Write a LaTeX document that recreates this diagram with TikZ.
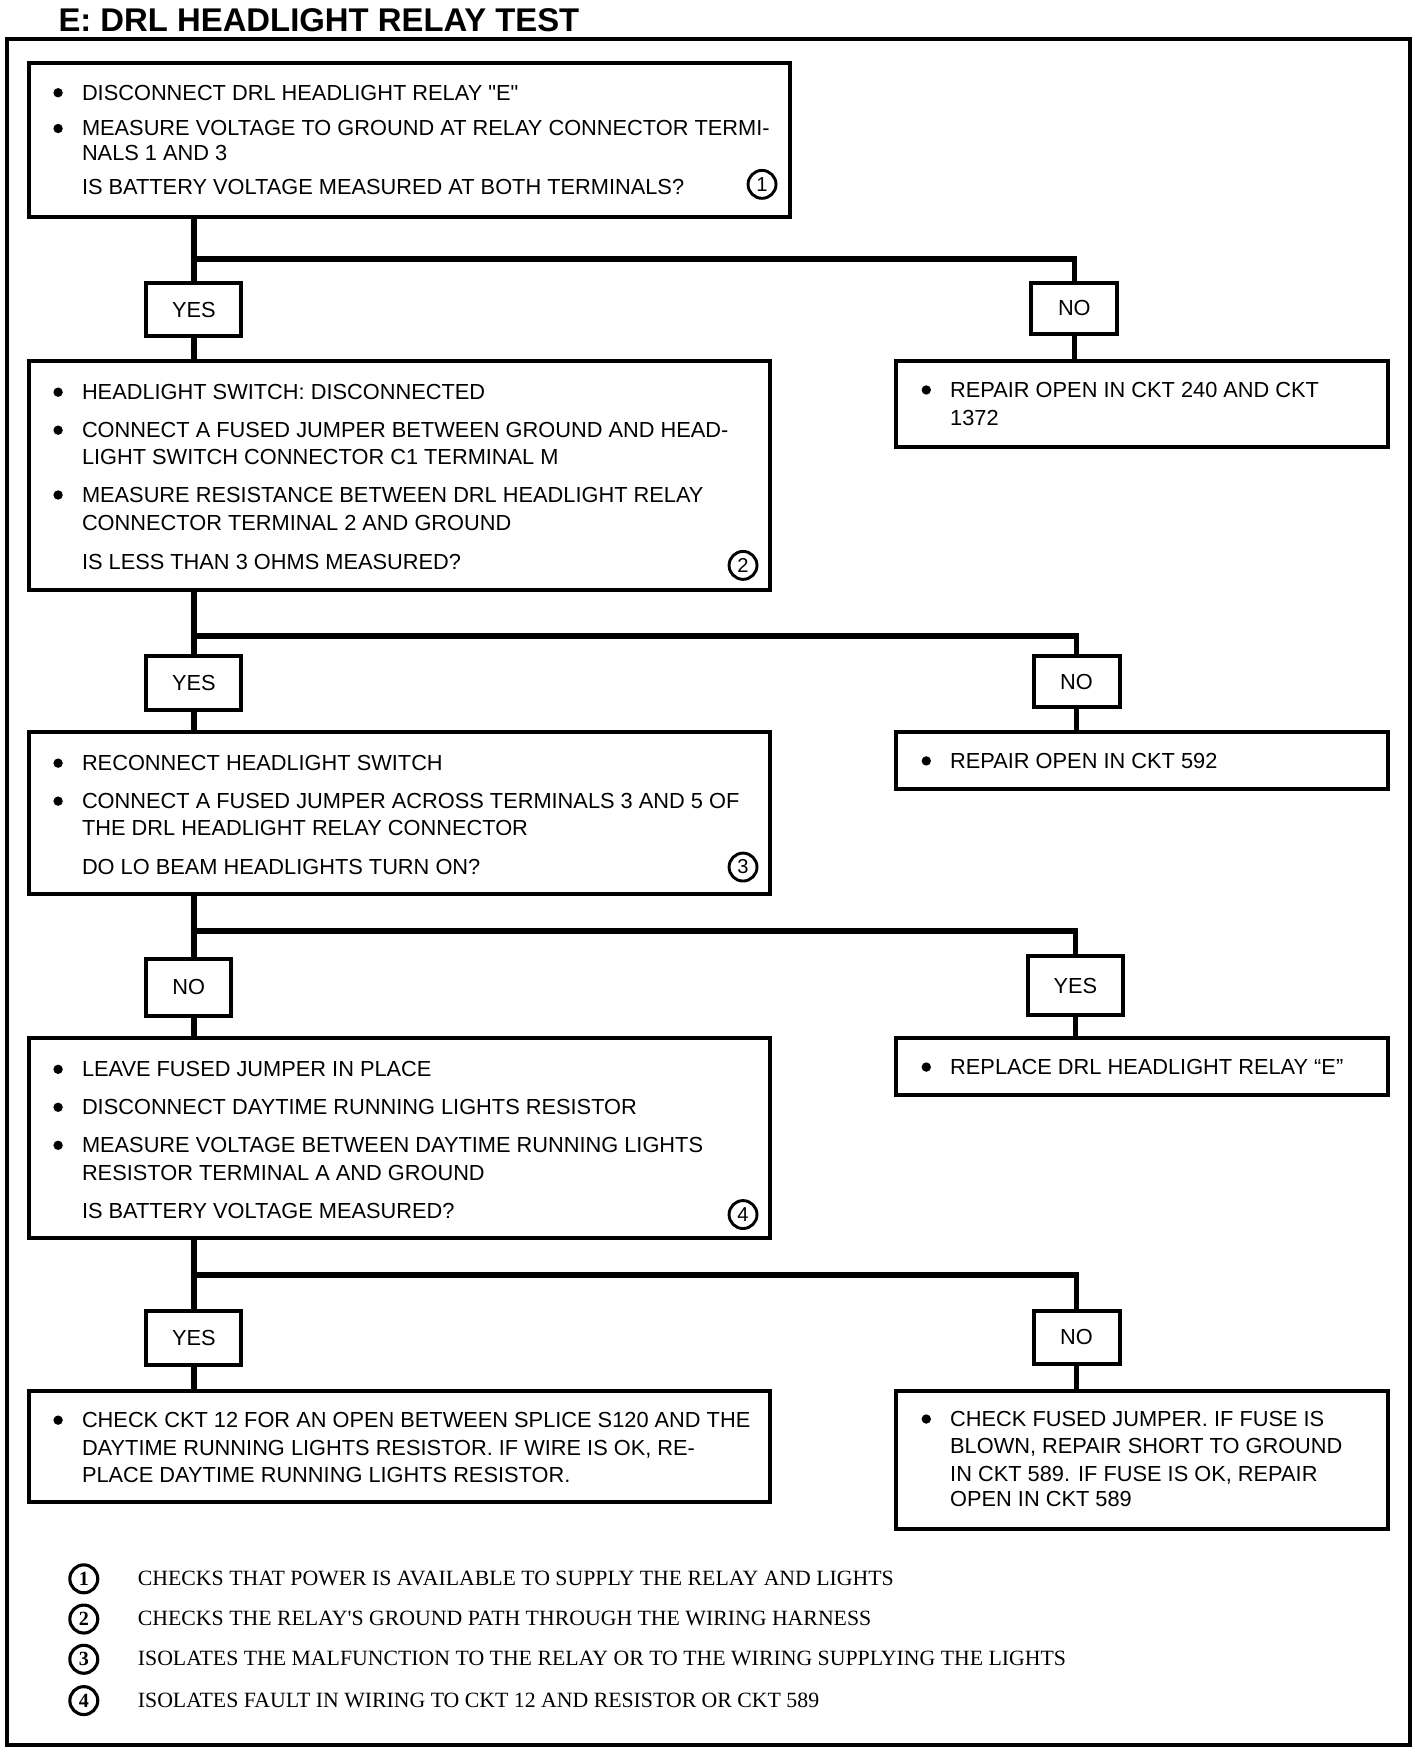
\documentclass[tikz,border=0pt]{standalone}
\usepackage{fontspec}
\setmainfont{Liberation Sans}
\newfontfamily\serifleg{Liberation Serif}
\usetikzlibrary{fit}
\tikzset{
  box/.style={draw, line width=1.8pt, inner sep=0pt, rectangle},
  yn/.style={draw, line width=1.8pt, inner sep=0pt, rectangle, font=\fontsize{9.75}{10}\selectfont},
  conn/.style={line width=2.5pt, line join=miter},
  txt/.style={anchor=base west, inner sep=0pt, font=\fontsize{9.75}{10}\selectfont},
  num/.style={circle, draw, line width=1.3pt, minimum size=12.5pt, inner sep=0pt, font=\fontsize{9}{9}\selectfont},
  legnum/.style={circle, draw, line width=1.4pt, minimum size=12.5pt, inner sep=0pt, font=\serifleg\bfseries\fontsize{9}{9}\selectfont},
  legtxt/.style={anchor=base west, inner sep=0pt, font=\serifleg\fontsize{9.75}{10}\selectfont},
}
\newcommand\tline[3]{\node[txt] (#1) at (#2) {#3};}
\newcommand\bul[1]{\fill (#1) circle (2.1pt);}
% yes/no box: name, center, width, height (in 0.5pt units), text
\newcommand\ynbox[5]{\node[yn, minimum width=#3*0.5pt, minimum height=#4*0.5pt] (#1) at (#2) {#5};}
\begin{document}
\begin{tikzpicture}[x=0.5pt, y=-0.5pt]
\useasboundingbox (0,0) rectangle (1274.5,1568);
% title and frame
\node[anchor=base west, inner sep=0pt, font=\bfseries\fontsize{14.7}{15}\selectfont] (title) at (52,28) {E: DRL HEADLIGHT RELAY TEST};
\node[box, fit={(6,35) (1262,1562)}] (frame) {};

% boxes
\node[box, fit={(26,56) (707,194)}] (b1) {};
\ynbox{y1}{173.5,277}{85}{48}{YES}
\ynbox{n1}{961.5,276}{77}{46}{NO}
\node[box, fit={(26,323) (689,528)}] (b2) {};
\node[box, fit={(802,323) (1242,400)}] (r1) {};
\ynbox{y2}{173.5,611}{85}{48}{YES}
\ynbox{n2}{963.5,610}{77}{46}{NO}
\node[box, fit={(26,655) (689,800)}] (b3) {};
\node[box, fit={(802,655) (1242,706)}] (r2) {};
\ynbox{n3}{169,883.5}{76}{51}{NO}
\ynbox{y3}{962.5,882}{85}{52}{YES}
\node[box, fit={(26,929) (689,1108)}] (b4) {};
\node[box, fit={(802,929) (1242,980)}] (r3) {};
\ynbox{y4}{173.5,1197.5}{85}{49}{YES}
\ynbox{n4}{963.5,1197}{77}{48}{NO}
\node[box, fit={(26,1245) (689,1344)}] (b5) {};
\node[box, fit={(802,1245) (1242,1368)}] (r4) {};

% junctions
\coordinate (j1) at (173.5,232);
\coordinate (j2) at (173.5,569);
\coordinate (j3) at (173.5,833);
\coordinate (j4) at (173.5,1141);

% connectors
\draw[conn] (y1.north |- b1.south) -- (y1.north);
\draw[conn] (j1) -| (n1.north);
\draw[conn] (y1.south) -- (y1.south |- b2.north);
\draw[conn] (n1.south) -- (n1.south |- r1.north);

\draw[conn] (y2.north |- b2.south) -- (y2.north);
\draw[conn] (j2) -| (n2.north);
\draw[conn] (y2.south) -- (y2.south |- b3.north);
\draw[conn] (n2.south) -- (n2.south |- r2.north);

\draw[conn] (j3 |- b3.south) -- (j3) -- (j3 |- n3.north);
\draw[conn] (j3) -| (y3.north);
\draw[conn] (n3.south -| j3) -- (j3 |- b4.north);
\draw[conn] (y3.south) -- (y3.south |- r3.north);

\draw[conn] (y4.north |- b4.south) -- (y4.north);
\draw[conn] (j4) -| (n4.north);
\draw[conn] (y4.south) -- (y4.south |- b5.north);
\draw[conn] (n4.south) -- (n4.south |- r4.north);

% box 1 text
\bul{52,83} \tline{t11}{73,89.5}{DISCONNECT DRL HEADLIGHT RELAY \textquotedbl E\textquotedbl}
\bul{52,115} \tline{t12}{73,121.5}{MEASURE VOLTAGE TO GROUND AT RELAY CONNECTOR TERMI-}
\tline{t13}{73,143.5}{NALS 1 AND 3}
\tline{t14}{73,174.5}{IS BATTERY VOLTAGE MEASURED AT BOTH TERMINALS?}
\node[num] (c1) at (682,165) {1};

% box 2 text
\bul{52,351} \tline{t21}{73,357.5}{HEADLIGHT SWITCH: DISCONNECTED}
\bul{52,385} \tline{t22}{73,391.5}{CONNECT A FUSED JUMPER BETWEEN GROUND AND HEAD-}
\tline{t23}{73,415.5}{LIGHT SWITCH CONNECTOR C1 TERMINAL M}
\bul{52,443} \tline{t24}{73,449.5}{MEASURE RESISTANCE BETWEEN DRL HEADLIGHT RELAY}
\tline{t25}{73,474.5}{CONNECTOR TERMINAL 2 AND GROUND}
\tline{t26}{73,509.5}{IS LESS THAN 3 OHMS MEASURED?}
\node[num] (c2) at (665,506) {2};

% right box 1
\bul{829,349} \tline{r11}{850,355.5}{REPAIR OPEN IN CKT 240 AND CKT}
\tline{r12}{850,380.5}{1372}

% box 3 text
\bul{52,683} \tline{t31}{73,689.5}{RECONNECT HEADLIGHT SWITCH}
\bul{52,717} \tline{t32}{73,723.5}{CONNECT A FUSED JUMPER ACROSS TERMINALS 3 AND 5 OF}
\tline{t33}{73,747.5}{THE DRL HEADLIGHT RELAY CONNECTOR}
\tline{t34}{73,782.5}{DO LO BEAM HEADLIGHTS TURN ON?}
\node[num] (c3) at (665,776) {3};

% right box 2
\bul{829,681} \tline{r21}{850,687.5}{REPAIR OPEN IN CKT 592}

% box 4 text
\bul{52,957} \tline{t41}{73,963.5}{LEAVE FUSED JUMPER IN PLACE}
\bul{52,991} \tline{t42}{73,997.5}{DISCONNECT DAYTIME RUNNING LIGHTS RESISTOR}
\bul{52,1025} \tline{t43}{73,1031.5}{MEASURE VOLTAGE BETWEEN DAYTIME RUNNING LIGHTS}
\tline{t44}{73,1056.5}{RESISTOR TERMINAL A AND GROUND}
\tline{t45}{73,1090.5}{IS BATTERY VOLTAGE MEASURED?}
\node[num] (c4) at (665,1087) {4};

% right box 3
\bul{829,955} \tline{r31}{850,961.5}{REPLACE DRL HEADLIGHT RELAY “E”}

% box 5 text
\bul{52,1271} \tline{t51}{73,1277.5}{CHECK CKT 12 FOR AN OPEN BETWEEN SPLICE S120 AND THE}
\tline{t52}{73,1302.5}{DAYTIME RUNNING LIGHTS RESISTOR. IF WIRE IS OK, RE-}
\tline{t53}{73,1326.5}{PLACE DAYTIME RUNNING LIGHTS RESISTOR.}

% right box 4
\bul{829,1270} \tline{r41}{850,1276.5}{CHECK FUSED JUMPER. IF FUSE IS}
\tline{r42}{850,1300.5}{BLOWN, REPAIR SHORT TO GROUND}
\tline{r43}{850,1325.5}{IN CKT 589. IF FUSE IS OK, REPAIR}
\tline{r44}{850,1348.5}{OPEN IN CKT 589}

% legend
\node[legnum] (l1) at (75,1413) {1};
\node[legnum] (l2) at (75,1449) {2};
\node[legnum] (l3) at (75,1485) {3};
\node[legnum] (l4) at (75,1522) {4};
\node[legtxt] (lt1) at (123,1419) {CHECKS THAT POWER IS AVAILABLE TO SUPPLY THE RELAY AND LIGHTS};
\node[legtxt] (lt2) at (123,1455) {CHECKS THE RELAY'S GROUND PATH THROUGH THE WIRING HARNESS};
\node[legtxt] (lt3) at (123,1491) {ISOLATES THE MALFUNCTION TO THE RELAY OR TO THE WIRING SUPPLYING THE LIGHTS};
\node[legtxt] (lt4) at (123,1528) {ISOLATES FAULT IN WIRING TO CKT 12 AND RESISTOR OR CKT 589};
\end{tikzpicture}
\end{document}
